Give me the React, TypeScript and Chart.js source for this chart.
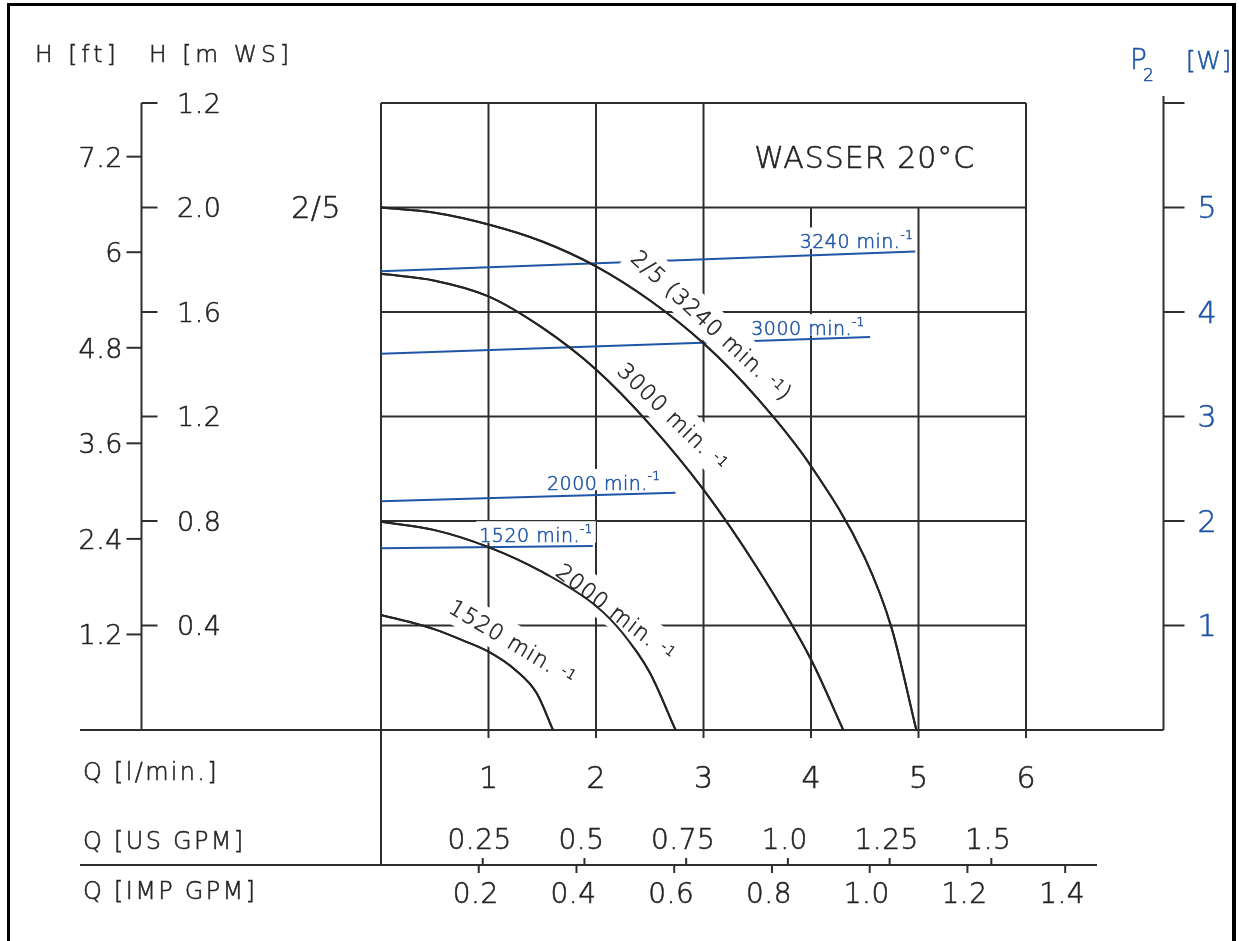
import { useEffect, useRef } from 'react';
import { Chart, registerables } from 'chart.js';

Chart.register(...registerables);

// ---------------- data (Q in l/min, H in m WS, P2 in W) ----------------
const q3240 = [0, 0.5, 1, 1.5, 2, 2.5, 3, 3.5, 4, 4.5, 4.75, 4.98];
const h3240 = [2.0, 1.98, 1.935, 1.87, 1.775, 1.645, 1.48, 1.27, 1.01, 0.66, 0.39, 0];

const q3000 = [0, 0.5, 1, 1.5, 2, 2.5, 3, 3.5, 4, 4.3];
const h3000 = [1.746, 1.72, 1.66, 1.54, 1.38, 1.17, 0.92, 0.62, 0.27, 0];

const q2000 = [0, 0.5, 1, 1.5, 2, 2.25, 2.5, 2.74];
const h2000 = [0.797, 0.765, 0.7, 0.605, 0.475, 0.37, 0.22, 0];

const q1520 = [0, 0.25, 0.5, 0.75, 1, 1.25, 1.45, 1.6];
const h1520 = [0.44, 0.415, 0.385, 0.345, 0.3, 0.23, 0.14, 0];

const powerQ3240 = [0, 4.97];
const power3240 = [4.39, 4.58];
const powerQ3000 = [0, 4.55];
const power3000 = [3.6, 3.76];
const powerQ2000 = [0, 2.74];
const power2000 = [2.19, 2.27];
const powerQ1520 = [0, 1.97];
const power1520 = [1.74, 1.76];

// ---------------- ticks ----------------
const qTicks = [1, 2, 3, 4, 5, 6];
const qTickLabels = ['1', '2', '3', '4', '5', '6'];
const gridQ = [0, 1, 2, 3, 4, 5, 6];
const gridTopH = [2.4, 2.4, 2.4, 2.4, 2.0, 2.0, 2.4];
const gridH = [0.4, 0.8, 1.2, 1.6, 2.0, 2.4];
const headTicksM = [0.4, 0.8, 1.2, 1.6, 2.0, 2.4];
const headTickLabelsM = ['0.4', '0.8', '1.2', '1.6', '2.0', '1.2'];
const headTicksFt = [1.2, 2.4, 3.6, 4.8, 6, 7.2];
const headTickLabelsFt = ['1.2', '2.4', '3.6', '4.8', '6', '7.2'];
const powerTicks = [1, 2, 3, 4, 5, 6];
const powerTickLabels = ['1', '2', '3', '4', '5', ''];
const usGpmTicks = [0.25, 0.5, 0.75, 1.0, 1.25, 1.5];
const usGpmLabels = ['0.25', '0.5', '0.75', '1.0', '1.25', '1.5'];
const impGpmTicks = [0.2, 0.4, 0.6, 0.8, 1.0, 1.2, 1.4];
const impGpmLabels = ['0.2', '0.4', '0.6', '0.8', '1.0', '1.2', '1.4'];

const FT_PER_M = 3.2808;
const LPM_PER_USGPM = 3.785;
const LPM_PER_IMPGPM = 4.546;

// ---------------- styles / layout ----------------
const W = 1239;
const H = 941;
const FONT = '"DejaVu Sans", "Liberation Sans", sans-serif';
const WEIGHT = '200';
const INK = '#242424';
const GRID = '#2e2e2e';
const BLUE = '#1f55a6';
const TEXT_STROKE = 0.55;

const LEFT_AXIS_X = 141.5;
const RIGHT_AXIS_X = 1163.5;
const AXIS_START_X = 80;
const GPM_LINE_Y = 865;
const GPM_LINE_END_X = 1097;

type Part = { t: string; sup?: boolean };

const curveLabels: { parts: Part[]; q: number; h: number; angle: number }[] = [
  { parts: [{ t: '2/5 (3240 min. ' }, { t: '-1', sup: true }, { t: ')' }], q: 3.08, h: 1.55, angle: 42.6 },
  { parts: [{ t: '3000 min. ' }, { t: '-1', sup: true }], q: 2.72, h: 1.2, angle: 44 },
  { parts: [{ t: '2000 min. ' }, { t: '-1', sup: true }], q: 2.19, h: 0.452, angle: 37.5 },
  { parts: [{ t: '1520 min. ' }, { t: '-1', sup: true }], q: 1.23, h: 0.338, angle: 31 },
];

const blueLabels: { parts: Part[]; q: number; p: number; lift: number }[] = [
  { parts: [{ t: '3240 min.' }, { t: '-1', sup: true }], q: 4.95, p: power3240[1], lift: 3 },
  { parts: [{ t: '3000 min.' }, { t: '-1', sup: true }], q: 4.5, p: power3000[1], lift: 2 },
  { parts: [{ t: '2000 min.' }, { t: '-1', sup: true }], q: 2.6, p: power2000[1], lift: 3 },
  { parts: [{ t: '1520 min.' }, { t: '-1', sup: true }], q: 1.97, p: power1520[1], lift: 4 },
];

function pts(xs: number[], ys: number[]) {
  return xs.map((x, i) => ({ x, y: ys[i] }));
}

function line(ctx: CanvasRenderingContext2D, x1: number, y1: number, x2: number, y2: number) {
  ctx.beginPath();
  ctx.moveTo(x1, y1);
  ctx.lineTo(x2, y2);
  ctx.stroke();
}

function setFont(ctx: CanvasRenderingContext2D, size: number, spacing: number) {
  ctx.font = `${WEIGHT} ${size}px ${FONT}`;
  (ctx as any).letterSpacing = `${spacing}px`;
}

function fillStroke(ctx: CanvasRenderingContext2D, s: string, x: number, y: number, color: string) {
  ctx.fillStyle = color;
  ctx.strokeStyle = color;
  ctx.lineWidth = TEXT_STROKE;
  ctx.fillText(s, x, y);
  ctx.strokeText(s, x, y);
}

function text(
  ctx: CanvasRenderingContext2D,
  s: string,
  x: number,
  yMid: number,
  size: number,
  align: CanvasTextAlign = 'left',
  color = INK,
  spacing = 0
) {
  setFont(ctx, size, spacing);
  ctx.textAlign = align;
  ctx.textBaseline = 'alphabetic';
  fillStroke(ctx, s, x, yMid + size * 0.365, color);
}

function partsWidth(ctx: CanvasRenderingContext2D, parts: Part[], size: number, spacing: number) {
  let w = 0;
  for (const p of parts) {
    setFont(ctx, p.sup ? size * 0.62 : size, spacing);
    w += ctx.measureText(p.t).width;
  }
  return w;
}

function drawParts(
  ctx: CanvasRenderingContext2D,
  parts: Part[],
  x: number,
  baseline: number,
  size: number,
  spacing: number,
  color: string,
  raise: number
) {
  let cx = x;
  ctx.textAlign = 'left';
  ctx.textBaseline = 'alphabetic';
  for (const p of parts) {
    setFont(ctx, p.sup ? size * 0.62 : size, spacing);
    fillStroke(ctx, p.t, cx, baseline - (p.sup ? size * raise : 0), color);
    cx += ctx.measureText(p.t).width;
  }
}

const CURVE_FONT = 22;
const BLUE_FONT = 19;

const decorPlugin = {
  id: 'pumpDecor',
  beforeDraw(chart: any) {
    const ctx: CanvasRenderingContext2D = chart.ctx;
    ctx.save();
    ctx.fillStyle = '#ffffff';
    ctx.fillRect(0, 0, chart.width, chart.height);
    ctx.restore();
  },
  beforeDatasetsDraw(chart: any) {
    const ctx: CanvasRenderingContext2D = chart.ctx;
    const xs = chart.scales.x;
    const ys = chart.scales.y;
    const ps = chart.scales.p;
    const X = (v: number) => xs.getPixelForValue(v);
    const Y = (v: number) => ys.getPixelForValue(v);
    const P = (v: number) => ps.getPixelForValue(v);
    ctx.save();

    // outer frame
    ctx.strokeStyle = '#000';
    ctx.lineWidth = 3;
    line(ctx, 8.5, 3, 8.5, H + 5);
    line(ctx, 7, 4.5, 1236, 4.5);
    ctx.lineWidth = 4;
    line(ctx, 1234, 3, 1234, H + 5);

    ctx.strokeStyle = GRID;
    ctx.lineWidth = 2;
    // horizontal grid
    gridH.forEach((h) => line(ctx, X(0), Y(h), X(6), Y(h)));
    // vertical grid (with Q ticks below axis)
    gridQ.forEach((q, i) => line(ctx, X(q), Y(gridTopH[i]), X(q), Y(0) + (q === 0 ? 0 : 8)));
    // Q = 0 line continues down to the GPM line
    line(ctx, X(0), Y(0), X(0), GPM_LINE_Y);
    // H = 0 axis
    line(ctx, AXIS_START_X, Y(0), RIGHT_AXIS_X, Y(0));

    // left axis (m WS & ft)
    line(ctx, LEFT_AXIS_X, Y(2.4), LEFT_AXIS_X, Y(0));
    headTicksM.forEach((h) => line(ctx, LEFT_AXIS_X, Y(h), LEFT_AXIS_X + 16, Y(h)));
    headTicksFt.forEach((f) => {
      const yy = Y(f / FT_PER_M);
      line(ctx, LEFT_AXIS_X - 15, yy, LEFT_AXIS_X, yy);
    });
    // right axis (P2 W)
    line(ctx, RIGHT_AXIS_X, P(6) - 7, RIGHT_AXIS_X, Y(0));
    powerTicks.forEach((v) => line(ctx, RIGHT_AXIS_X, P(v), RIGHT_AXIS_X + 21, P(v)));
    // GPM scales
    line(ctx, AXIS_START_X, GPM_LINE_Y, GPM_LINE_END_X, GPM_LINE_Y);
    usGpmTicks.forEach((g) => {
      const xx = X(g * LPM_PER_USGPM);
      line(ctx, xx, GPM_LINE_Y - 7, xx, GPM_LINE_Y);
    });
    impGpmTicks.forEach((g) => {
      const xx = X(g * LPM_PER_IMPGPM);
      line(ctx, xx, GPM_LINE_Y, xx, GPM_LINE_Y + 8);
    });

    // tick labels
    headTicksM.forEach((h, i) => text(ctx, headTickLabelsM[i], 177, Y(h), 27, 'left', INK, 0.5));
    headTicksFt.forEach((f, i) => text(ctx, headTickLabelsFt[i], 123, Y(f / FT_PER_M), 27, 'right', INK, 0.5));
    powerTicks.forEach((v, i) => {
      if (powerTickLabels[i]) text(ctx, powerTickLabels[i], 1207, P(v), 30, 'center', BLUE);
    });
    qTicks.forEach((q, i) => text(ctx, qTickLabels[i], X(q), 777, 30, 'center'));
    usGpmTicks.forEach((g, i) => text(ctx, usGpmLabels[i], X(g * LPM_PER_USGPM) - 3, 839, 28, 'center', INK, 0.5));
    impGpmTicks.forEach((g, i) => text(ctx, impGpmLabels[i], X(g * LPM_PER_IMPGPM) - 3, 893, 28, 'center', INK, 0.5));

    // axis titles
    text(ctx, 'H [ft]', 35, 53, 23.5, 'left', INK, 4);
    text(ctx, 'H [m WS]', 149, 53, 23.5, 'left', INK, 4);
    text(ctx, 'Q [l/min.]', 83, 771, 24, 'left', INK, 2.3);
    text(ctx, 'Q [US GPM]', 83, 840, 24, 'left', INK, 2.3);
    text(ctx, 'Q [IMP GPM]', 83, 890, 24, 'left', INK, 2.3);
    text(ctx, 'P', 1130, 59, 28, 'left', BLUE, 0);
    text(ctx, '2', 1143, 75, 17, 'left', BLUE, 0);
    text(ctx, '[W]', 1186, 60, 25, 'left', BLUE, 0.5);

    // chart title and pump type
    text(ctx, 'WASSER 20°C', (X(3) + X(6)) / 2, (Y(2.4) + Y(2.0)) / 2 + 2, 30, 'center', INK, 1);
    text(ctx, '2/5', 341, Y(2.0), 30, 'right', INK, 0.5);

    ctx.restore();
  },
  afterDatasetsDraw(chart: any) {
    const ctx: CanvasRenderingContext2D = chart.ctx;
    const xs = chart.scales.x;
    const ys = chart.scales.y;
    const ps = chart.scales.p;
    const X = (v: number) => xs.getPixelForValue(v);
    const Y = (v: number) => ys.getPixelForValue(v);
    const P = (v: number) => ps.getPixelForValue(v);
    ctx.save();

    const capC = CURVE_FONT * 0.73;
    const capB = BLUE_FONT * 0.73;

    // knock-outs behind labels (interrupt grid and power lines like the drawing)
    ctx.fillStyle = '#ffffff';
    for (const L of curveLabels) {
      const w = partsWidth(ctx, L.parts, CURVE_FONT, 1);
      ctx.save();
      ctx.translate(X(L.q), Y(L.h));
      ctx.rotate((L.angle * Math.PI) / 180);
      ctx.fillRect(-w / 2 - 5, -capC / 2 - 9, w + 10, capC + 18);
      ctx.restore();
    }
    for (const B of blueLabels) {
      const w = partsWidth(ctx, B.parts, BLUE_FONT, 0.5);
      const right = X(B.q);
      const base = P(B.p) - B.lift;
      ctx.fillRect(right - w - 3, base - capB - 7, w + 6, capB + 7.5);
    }

    // redraw the head curves over the knock-outs
    for (let i = 0; i < 4; i++) {
      const meta = chart.getDatasetMeta(i);
      if (meta && meta.dataset) meta.dataset.draw(ctx, chart.chartArea);
    }

    // curve labels
    for (const L of curveLabels) {
      const w = partsWidth(ctx, L.parts, CURVE_FONT, 1);
      ctx.save();
      ctx.translate(X(L.q), Y(L.h));
      ctx.rotate((L.angle * Math.PI) / 180);
      drawParts(ctx, L.parts, -w / 2, capC / 2, CURVE_FONT, 1, INK, 0.25);
      ctx.restore();
    }
    // power labels
    for (const B of blueLabels) {
      const w = partsWidth(ctx, B.parts, BLUE_FONT, 0.5);
      const right = X(B.q);
      const base = P(B.p) - B.lift;
      drawParts(ctx, B.parts, right - w, base, BLUE_FONT, 0.5, BLUE, 0.5);
    }
    ctx.restore();
  },
};

export default function App() {
  const canvasRef = useRef<HTMLCanvasElement | null>(null);

  useEffect(() => {
    const canvas = canvasRef.current;
    if (!canvas) return;
    const headStyle = {
      borderColor: INK,
      borderWidth: 2,
      pointRadius: 0,
      cubicInterpolationMode: 'monotone' as const,
      fill: false,
      yAxisID: 'y',
    };
    const powerStyle = {
      borderColor: BLUE,
      borderWidth: 2,
      pointRadius: 0,
      tension: 0,
      fill: false,
      yAxisID: 'p',
    };
    const chart = new Chart(canvas, {
      type: 'line',
      data: {
        datasets: [
          { label: '2/5 (3240 min-1)', data: pts(q3240, h3240), ...headStyle },
          { label: '3000 min-1', data: pts(q3000, h3000), ...headStyle },
          { label: '2000 min-1', data: pts(q2000, h2000), ...headStyle },
          { label: '1520 min-1', data: pts(q1520, h1520), ...headStyle },
          { label: 'P2 3240 min-1', data: pts(powerQ3240, power3240), ...powerStyle },
          { label: 'P2 3000 min-1', data: pts(powerQ3000, power3000), ...powerStyle },
          { label: 'P2 2000 min-1', data: pts(powerQ2000, power2000), ...powerStyle },
          { label: 'P2 1520 min-1', data: pts(powerQ1520, power1520), ...powerStyle },
        ],
      },
      options: {
        animation: false,
        responsive: false,
        maintainAspectRatio: false,
        devicePixelRatio: 1,
        layout: { padding: { left: 381, right: W - 1026, top: 103, bottom: H - 730 } },
        plugins: { legend: { display: false }, title: { display: false }, tooltip: { enabled: false } },
        events: [],
        scales: {
          x: { type: 'linear', min: 0, max: 6, display: false },
          y: { type: 'linear', min: 0, max: 2.4, display: false },
          p: { type: 'linear', min: 0, max: 6, display: false, position: 'right' },
        },
      },
      plugins: [decorPlugin],
    } as any);
    return () => chart.destroy();
  }, []);

  return (
    <div style={{ position: 'fixed', left: 0, top: 0, width: W, height: H, background: '#fff' }}>
      <canvas ref={canvasRef} width={W} height={H} style={{ display: 'block', width: W, height: H }} />
    </div>
  );
}
